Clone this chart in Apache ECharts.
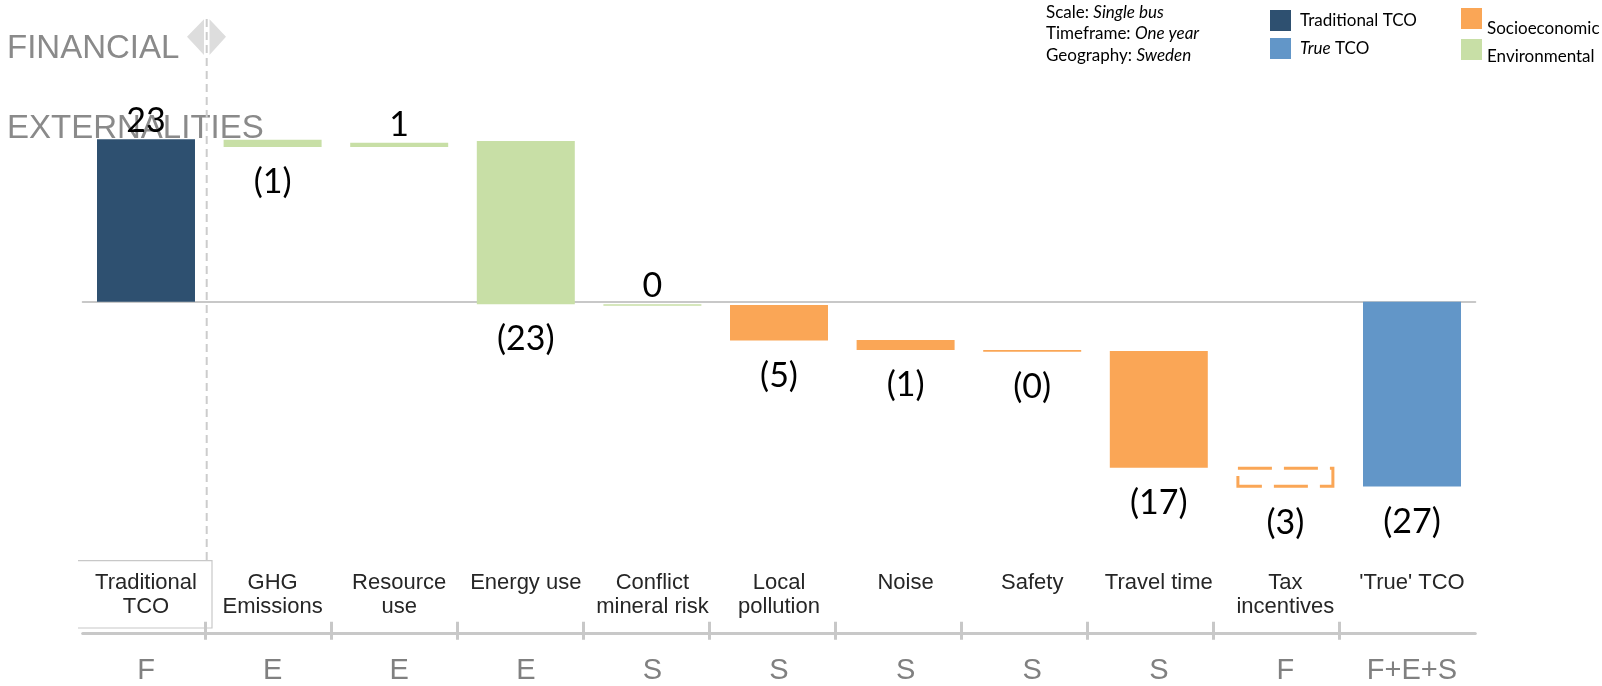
<!DOCTYPE html>
<html>
<head>
<meta charset="utf-8">
<script src="https://cdn.jsdelivr.net/npm/echarts@6/dist/echarts.min.js"></script>
<style>
html, body { margin: 0; padding: 0; background: #fff; }
#chart { width: 1602px; height: 686px; }
</style>
</head>
<body>
<div id="chart"></div>
<script>
// categories and the F / E / S row under them
var categories = ['Traditional\nTCO', 'GHG\nEmissions', 'Resource\nuse', 'Energy use', 'Conflict\nmineral risk',
    'Local\npollution', 'Noise', 'Safety', 'Travel time', 'Tax\nincentives', "'True' TCO"];
var groups = ['F', 'E', 'E', 'E', 'S', 'S', 'S', 'S', 'S', 'F', 'F+E+S'];

// bottom and top of each waterfall step
var barLow  = [0, 21.9, 21.9, -0.37, -0.57, -5.5, -6.83, -7.07, -23.47, -26.3, -26.15];
var barHigh = [23, 22.9, 22.5, 22.72, -0.37, -0.47, -5.41, -6.83, -6.97, -23.33, 0];
var valueLabels = ['23', '(1)', '1', '(23)', '0', '(5)', '(1)', '(0)', '(17)', '(3)', '(27)'];
var barKind = ['traditional', 'environmental', 'environmental', 'environmental', 'environmental',
    'socioeconomic', 'socioeconomic', 'socioeconomic', 'socioeconomic', 'incentive', 'true'];

var kindColor = {
    traditional: '#2E5070',
    true: '#6296C8',
    socioeconomic: '#FAA656',
    environmental: '#C8DFA6',
    incentive: '#FAA656'
};

var data = [];
for (var i = 0; i < categories.length; i++) {
    data.push([i, barLow[i], barHigh[i]]);
}

function renderItem(params, api) {
    var idx = api.value(0);
    var pTop = api.coord([idx, api.value(2)]);
    var pBot = api.coord([idx, api.value(1)]);
    var band = api.size([1, 0])[0];
    var w = band * 0.774;
    var x = pTop[0] - w / 2;
    var y = pTop[1];
    var h = Math.max(pBot[1] - pTop[1], 1.5);
    var kind = barKind[idx];
    var rect;
    if (kind === 'incentive') {
        rect = {
            type: 'rect',
            shape: { x: x + 1.5, y: y + 1.5, width: w - 3, height: h - 3 },
            style: { fill: 'none', stroke: kindColor[kind], lineWidth: 3, lineDash: [34, 12] }
        };
    } else {
        rect = {
            type: 'rect',
            shape: { x: x, y: y, width: w, height: h },
            style: { fill: kindColor[kind] }
        };
    }
    var txt = valueLabels[idx];
    var above = txt.charAt(0) !== '(';
    var label = {
        type: 'text',
        x: pTop[0],
        y: above ? y - 18 : y + h + 35,
        style: {
            text: txt,
            fontSize: 34,
            fontFamily: 'Lato',
            fill: '#000',
            align: 'center',
            verticalAlign: 'middle'
        }
    };
    return { type: 'group', children: [rect, label] };
}

function richLine(x, y, rich) {
    return {
        type: 'text', x: x, y: y,
        style: {
            text: rich,
            verticalAlign: 'middle',
            rich: {
                n: { fontSize: 17, fontFamily: 'Lato', fill: '#000' },
                i: { fontSize: 17, fontFamily: 'Lato', fontStyle: 'italic', fill: '#000' }
            }
        }
    };
}

var myChart = echarts.init(document.getElementById('chart'));

var option = {
    backgroundColor: '#fff',
    animation: false,
    grid: [
        { left: 82.7, right: 126.7, top: 125, bottom: 172.2 },
        { left: 82.7, right: 126.7, top: 540, bottom: 52.7 },
        { left: 205.4, right: 262.5, top: 600, bottom: 64.3 }
    ],
    xAxis: [
        {
            gridIndex: 0, type: 'category', data: categories,
            axisLine: { onZero: true, lineStyle: { color: '#C8C8C8', width: 2 } },
            axisTick: { show: false },
            axisLabel: { show: false }
        },
        {
            gridIndex: 1, type: 'category', data: categories, position: 'bottom',
            axisLine: { lineStyle: { color: '#C8C8C8', width: 3 } },
            axisTick: { show: false },
            axisLabel: {
                inside: true, interval: 0, margin: 62, verticalAlign: 'top',
                lineHeight: 24, fontSize: 22, fontFamily: 'Liberation Sans', color: '#262626'
            }
        },
        {
            gridIndex: 1, type: 'category', data: groups, position: 'bottom',
            axisLine: { show: false },
            axisTick: { show: false },
            axisLabel: { interval: 0, margin: 23, fontSize: 29, fontFamily: 'Liberation Sans', color: '#808080' }
        },
        {
            gridIndex: 2, type: 'value', min: 1, max: 10, interval: 1, position: 'bottom',
            axisLine: { show: false },
            axisTick: { show: true, length: 18, lineStyle: { color: '#C8C8C8', width: 3 } },
            axisLabel: { show: false },
            splitLine: { show: false }
        }
    ],
    yAxis: [
        { gridIndex: 0, type: 'value', min: -30, max: 25, show: false },
        { gridIndex: 1, type: 'value', show: false },
        { gridIndex: 2, type: 'value', show: false }
    ],
    graphic: [
        { type: 'text', x: 7, y: 48.7, z: 0, style: { text: 'FINANCIAL', fontSize: 33, fontFamily: 'Liberation Sans', fill: '#8A8A8A', verticalAlign: 'middle' } },
        { type: 'text', x: 7, y: 128.5, z: 0, style: { text: 'EXTERNALITIES', fontSize: 33, fontFamily: 'Liberation Sans', fill: '#8A8A8A', verticalAlign: 'middle' } },
        { type: 'polygon', shape: { points: [[187, 36.7], [204, 19.3], [204, 55]] }, style: { fill: '#DDDDDD' } },
        { type: 'polygon', shape: { points: [[209.5, 19.3], [226, 36.7], [209.5, 55]] }, style: { fill: '#DDDDDD' } },
        { type: 'line', shape: { x1: 206.7, y1: 19, x2: 206.7, y2: 560.7 }, style: { stroke: '#CCCCCC', lineWidth: 2, lineDash: [8, 5] } },
        { type: 'polyline', shape: { points: [[78, 560.7], [212, 560.7], [212, 628], [78, 628]] }, style: { stroke: '#C8C8C8', lineWidth: 1.2, fill: 'none' } },
        richLine(1046, 12.3, '{n|Scale: }{i|Single bus}'),
        richLine(1046, 33.7, '{n|Timeframe: }{i|One year}'),
        richLine(1046, 55.2, '{n|Geography: }{i|Sweden}'),
        { type: 'rect', shape: { x: 1270, y: 10, width: 21, height: 21 }, style: { fill: kindColor.traditional } },
        richLine(1300, 21, '{n|Traditional TCO}'),
        { type: 'rect', shape: { x: 1270, y: 38, width: 21, height: 21 }, style: { fill: kindColor['true'] } },
        richLine(1300, 49, '{i|True}{n| TCO}'),
        { type: 'rect', shape: { x: 1461, y: 8, width: 21, height: 21 }, style: { fill: kindColor.socioeconomic } },
        richLine(1487, 29, '{n|Socioeconomic}'),
        { type: 'rect', shape: { x: 1461, y: 39, width: 21, height: 21 }, style: { fill: kindColor.environmental } },
        richLine(1487, 57, '{n|Environmental}')
    ],
    series: [
        {
            type: 'custom',
            xAxisIndex: 0,
            yAxisIndex: 0,
            z: 5,
            renderItem: renderItem,
            encode: { x: 0, y: [1, 2] },
            data: data
        }
    ]
};

myChart.setOption(option);
</script>
</body>
</html>
